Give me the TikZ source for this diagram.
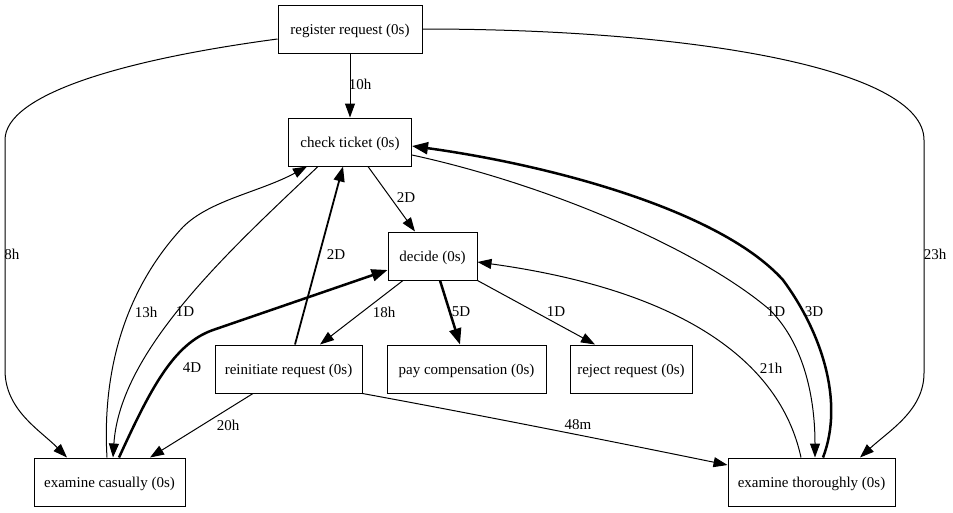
\documentclass[tikz,border=0pt]{standalone}
\usepackage{fontspec}
\setmainfont{Liberation Serif}
\usetikzlibrary{arrows.meta}
\begin{document}
\begin{tikzpicture}[x=1pt,y=-1pt,
  box/.style={draw,line width=1pt,rectangle,minimum height=48pt,inner sep=0pt,text height=11pt,text depth=1pt,font=\fontsize{15}{18}\selectfont},
  lab/.style={font=\fontsize{15}{18}\selectfont,inner sep=0pt},
  edge/.style={line width=1pt,-{Triangle[length=14pt,width=10pt]}},
  midedge/.style={line width=1.8pt,-{Triangle[length=15pt,width=11pt]}},
  boldedge/.style={line width=2.5pt,-{Triangle[length=16pt,width=12pt]}}]
\useasboundingbox (0,0) rectangle (953,512);
\fill[white] (0,0) rectangle (953,512);
% nodes
\node[box,minimum width=144pt] (reg) at (350,29) {register request (0s)};
\node[box,minimum width=123pt] (ct) at (350,142) {check ticket (0s)};
\node[box,minimum width=89pt] (dec) at (432.5,256) {decide (0s)};
\node[box,minimum width=147pt] (rei) at (288.5,369) {reinitiate request (0s)};
\node[box,minimum width=159pt] (pay) at (466.5,369) {pay compensation (0s)};
\node[box,minimum width=122pt] (rej) at (631,369) {reject request (0s)};
\node[box,minimum width=151pt] (cas) at (109.5,482) {examine casually (0s)};
\node[box,minimum width=167pt] (tho) at (811.5,482) {examine thoroughly (0s)};
% edges
\draw[edge] (reg.south) -- (ct.north);
\draw[edge] ([yshift=-10pt]reg.west) .. controls (120,60) and (5,95) .. (5,140) -- (5,370) .. controls (5,410) and (40,430) .. ([xshift=-42.5pt]cas.north);
\draw[edge] (reg.east) .. controls (690,29) and (924,68) .. (924,140) -- (924,373) .. controls (924,410) and (890,430) .. ([xshift=48.5pt]tho.north);
\draw[edge] ([xshift=18pt]ct.south) -- ([xshift=-17.5pt]dec.north);
\draw[edge] ([xshift=-29.5pt]dec.south) -- ([xshift=31.5pt]rei.north);
\draw[boldedge] ([xshift=7.5pt]dec.south) -- ([xshift=-6.5pt]pay.north);
\draw[edge] (dec.south east) -- ([xshift=-36pt]rej.north);
\draw[midedge] ([xshift=6.5pt]rei.north) -- ([xshift=-7pt]ct.south);
\draw[edge] ([xshift=-35.5pt]rei.south) -- ([xshift=40.5pt]cas.north);
\draw[edge] (rei.south east) .. controls (480,415) and (620,443) .. ([yshift=17pt]tho.west);
\draw[edge] ([xshift=-2.5pt]cas.north) .. controls (103,390) and (115,300) .. (183,227) .. controls (210,200) and (260,192) .. ([xshift=-43pt]ct.south);
\draw[edge] ([xshift=-32pt]ct.south) .. controls (230,250) and (120,350) .. ([xshift=3.5pt]cas.north);
\draw[boldedge] ([xshift=9.5pt]cas.north) .. controls (150,390) and (173,344) .. (213,330) -- ([yshift=-14pt]dec.west);
\draw[edge] ([yshift=-13pt]ct.east) .. controls (550,185) and (700,250) .. (770,310) .. controls (805,345) and (815,400) .. ([xshift=3.5pt]tho.north);
\draw[boldedge] ([xshift=11.5pt]tho.north) .. controls (845,400) and (820,330) .. (783,280) .. controls (720,210) and (550,165) .. ([yshift=-4pt]ct.east);
\draw[edge] ([xshift=-10.5pt]tho.north) .. controls (780,360) and (680,290) .. ([yshift=-6pt]dec.east);
% labels
\node[lab] (l1) at (360,84) {10h};
\node[lab] (l2) at (12,254) {8h};
\node[lab] (l3) at (935,254) {23h};
\node[lab] (l4) at (406,198) {2D};
\node[lab] (l5) at (384,312) {18h};
\node[lab] (l6) at (461,312) {5D};
\node[lab] (l7) at (556,312) {1D};
\node[lab] (l8) at (336,255) {2D};
\node[lab] (l9) at (228,425) {20h};
\node[lab] (l10) at (578,425) {48m};
\node[lab] (l11) at (146,312) {13h};
\node[lab] (l12) at (185,312) {1D};
\node[lab] (l13) at (192,368) {4D};
\node[lab] (l14) at (776,312) {1D};
\node[lab] (l15) at (814,312) {3D};
\node[lab] (l16) at (771,368) {21h};
\end{tikzpicture}
\end{document}
